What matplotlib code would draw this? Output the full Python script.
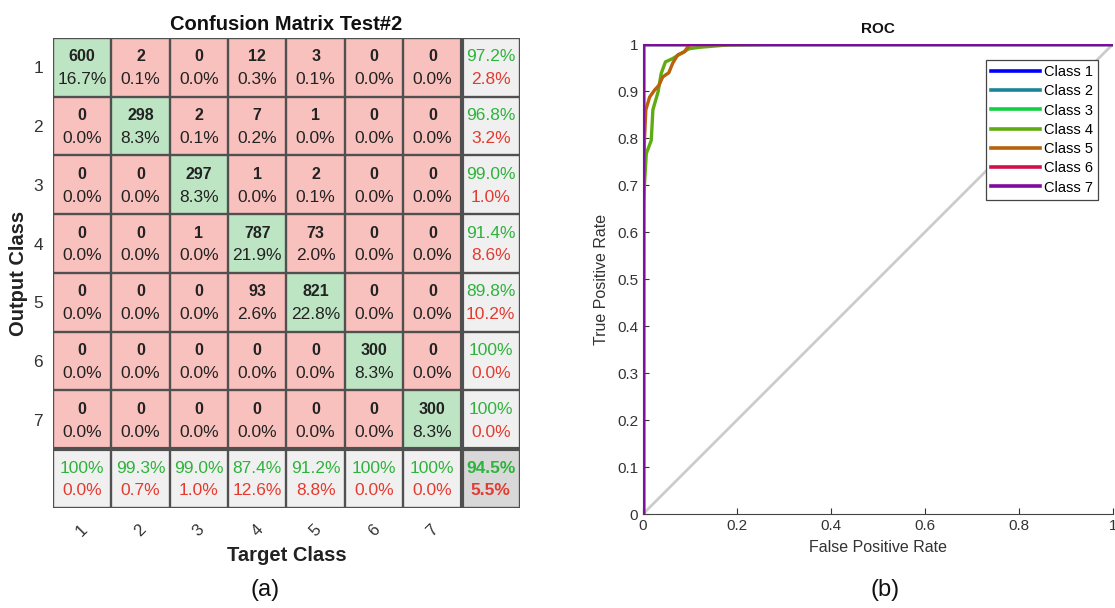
import numpy as np
import matplotlib
matplotlib.use("Agg")
import matplotlib.pyplot as plt
from matplotlib.patches import Rectangle

plt.rcParams['font.family'] = ['Liberation Sans', 'DejaVu Sans']

# ---------------- data ----------------
classes = ['1', '2', '3', '4', '5', '6', '7']
counts = [
    [600, 2, 0, 12, 3, 0, 0],
    [0, 298, 2, 7, 1, 0, 0],
    [0, 0, 297, 1, 2, 0, 0],
    [0, 0, 1, 787, 73, 0, 0],
    [0, 0, 0, 93, 821, 0, 0],
    [0, 0, 0, 0, 0, 300, 0],
    [0, 0, 0, 0, 0, 0, 300],
]
cell_pct = [
    ['16.7%', '0.1%', '0.0%', '0.3%', '0.1%', '0.0%', '0.0%'],
    ['0.0%', '8.3%', '0.1%', '0.2%', '0.0%', '0.0%', '0.0%'],
    ['0.0%', '0.0%', '8.3%', '0.0%', '0.1%', '0.0%', '0.0%'],
    ['0.0%', '0.0%', '0.0%', '21.9%', '2.0%', '0.0%', '0.0%'],
    ['0.0%', '0.0%', '0.0%', '2.6%', '22.8%', '0.0%', '0.0%'],
    ['0.0%', '0.0%', '0.0%', '0.0%', '0.0%', '8.3%', '0.0%'],
    ['0.0%', '0.0%', '0.0%', '0.0%', '0.0%', '0.0%', '8.3%'],
]
row_good = ['97.2%', '96.8%', '99.0%', '91.4%', '89.8%', '100%', '100%']
row_bad = ['2.8%', '3.2%', '1.0%', '8.6%', '10.2%', '0.0%', '0.0%']
col_good = ['100%', '99.3%', '99.0%', '87.4%', '91.2%', '100%', '100%']
col_bad = ['0.0%', '0.7%', '1.0%', '12.6%', '8.8%', '0.0%', '0.0%']
total_good = '94.5%'
total_bad = '5.5%'

roc_labels = ['Class 1', 'Class 2', 'Class 3', 'Class 4', 'Class 5', 'Class 6', 'Class 7']
roc_colors = ['#0000ff', '#1a8597', '#12d040', '#5fac10', '#b8620c', '#d0104a', '#820aa0']
perfect_fpr = [0, 0, 1]
perfect_tpr = [0, 1, 1]
c4_fpr = [0, 0.001, 0.007, 0.0175, 0.021, 0.032, 0.0386, 0.0477, 0.063, 0.081, 0.098, 0.12, 0.18, 0.31, 1]
c4_tpr = [0, 0.667, 0.767, 0.795, 0.86, 0.898, 0.937, 0.962, 0.969, 0.98, 0.99, 0.993, 0.998, 1.0, 1.0]
c5_fpr = [0, 0.0, 0.003, 0.006, 0.014, 0.0246, 0.0337, 0.042, 0.055, 0.063, 0.074, 0.088, 0.098, 0.112, 1]
c5_tpr = [0, 0.6, 0.795, 0.86, 0.887, 0.902, 0.912, 0.93, 0.939, 0.959, 0.977, 0.983, 0.998, 1.0, 1.0]
roc_fpr = [perfect_fpr, perfect_fpr, perfect_fpr, c4_fpr, c5_fpr, perfect_fpr, perfect_fpr]
roc_tpr = [perfect_tpr, perfect_tpr, perfect_tpr, c4_tpr, c5_tpr, perfect_tpr, perfect_tpr]

# ---------------- figure ----------------
fig = plt.figure(figsize=(11.15, 6.08), dpi=100)

GREEN_BG = '#bde5c3'
RED_BG = '#f8c1bd'
GRAY_BG = '#f0f0f0'
DARK_BG = '#d8d8d8'
GREEN_TX = '#2eb33c'
RED_TX = '#e53a30'
EDGE = '#505050'
TXT = '#222222'

n = len(classes)
ax = fig.add_axes([0.0475, 0.1645, 0.4188, 0.773])
ax.set_xlim(0.5, n + 1.5)
ax.set_ylim(n + 1.5, 0.5)

fs_num = 11.5
fs_pct = 12.5
dy1, dy2 = -0.18, 0.21
for i in range(n):
    for j in range(n):
        bg = GREEN_BG if i == j else RED_BG
        ax.add_patch(Rectangle((j + 0.5, i + 0.5), 1, 1, facecolor=bg, edgecolor='none'))
        ax.text(j + 1, i + 1 + dy1, str(counts[i][j]), ha='center', va='center',
                fontsize=fs_num, fontweight='bold', color=TXT)
        ax.text(j + 1, i + 1 + dy2, cell_pct[i][j], ha='center', va='center',
                fontsize=fs_pct, color=TXT)
    # row summary
    ax.add_patch(Rectangle((n + 0.5, i + 0.5), 1, 1, facecolor=GRAY_BG, edgecolor='none'))
    ax.text(n + 1, i + 1 + dy1, row_good[i], ha='center', va='center', fontsize=fs_pct, color=GREEN_TX)
    ax.text(n + 1, i + 1 + dy2, row_bad[i], ha='center', va='center', fontsize=fs_pct, color=RED_TX)
    # column summary
    ax.add_patch(Rectangle((i + 0.5, n + 0.5), 1, 1, facecolor=GRAY_BG, edgecolor='none'))
    ax.text(i + 1, n + 1 + dy1, col_good[i], ha='center', va='center', fontsize=fs_pct, color=GREEN_TX)
    ax.text(i + 1, n + 1 + dy2, col_bad[i], ha='center', va='center', fontsize=fs_pct, color=RED_TX)
ax.add_patch(Rectangle((n + 0.5, n + 0.5), 1, 1, facecolor=DARK_BG, edgecolor='none'))
ax.text(n + 1, n + 1 + dy1, total_good, ha='center', va='center', fontsize=fs_pct,
        fontweight='bold', color=GREEN_TX)
ax.text(n + 1, n + 1 + dy2, total_bad, ha='center', va='center', fontsize=fs_pct,
        fontweight='bold', color=RED_TX)

for k in range(n + 2):
    lw = 3.0 if k == n else 1.7
    ax.axvline(k + 0.5, color=EDGE, lw=lw, zorder=5)
    ax.axhline(k + 0.5, color=EDGE, lw=lw, zorder=5)

for s in ax.spines.values():
    s.set_visible(False)
ax.set_xticks(range(1, n + 1))
ax.set_xticklabels(classes, rotation=45, fontsize=12, color='#333333')
ax.set_yticks(range(1, n + 1))
ax.set_yticklabels(classes, fontsize=12.5, color='#333333')
ax.tick_params(length=0, pad=7)
ax.tick_params(axis='x', pad=10)
ax.set_title('Confusion Matrix Test#2', fontsize=14.5, fontweight='bold', pad=6, color='#111111')
ax.set_xlabel('Target Class', fontsize=14.5, fontweight='bold', color='#222222', labelpad=5)
ax.set_ylabel('Output Class', fontsize=14.5, fontweight='bold', color='#222222', labelpad=4)

# ---------------- ROC ----------------
ax2 = fig.add_axes([0.5767, 0.1546, 0.4215, 0.773])
ax2.plot([0, 1], [0, 1], color='#cccccc', lw=2)
for fpr, tpr, col, lab in zip(roc_fpr, roc_tpr, roc_colors, roc_labels):
    ax2.plot(fpr, tpr, color=col, lw=2.4, label=lab, solid_joinstyle='round')
ax2.set_xlim(0, 1)
ax2.set_ylim(0, 1)
ax2.set_xticks(np.arange(0, 1.01, 0.2))
ax2.set_xticklabels(['0', '0.2', '0.4', '0.6', '0.8', '1'])
ax2.set_yticks(np.arange(0, 1.01, 0.1))
ax2.set_yticklabels(['0', '0.1', '0.2', '0.3', '0.4', '0.5', '0.6', '0.7', '0.8', '0.9', '1'])
ax2.tick_params(direction='in', length=4, labelsize=11, colors='#333333', width=0.8)
ax2.spines['top'].set_visible(False)
ax2.spines['right'].set_visible(False)
for s in ('left', 'bottom'):
    ax2.spines[s].set_color('#444444')
ax2.set_title('ROC', fontsize=11, fontweight='bold', pad=8, color='#111111')
ax2.set_xlabel('False Positive Rate', fontsize=11.5, color='#333333', labelpad=5)
ax2.set_ylabel('True Positive Rate', fontsize=11.5, color='#333333', labelpad=6)
leg = ax2.legend(loc='upper right', bbox_to_anchor=(0.968, 0.966), borderaxespad=0,
                 fontsize=10.5, fancybox=False, framealpha=1, edgecolor='#444444',
                 handlelength=3.4, labelspacing=0.36, handletextpad=0.25, borderpad=0.35)
leg.get_frame().set_linewidth(0.9)
for line in leg.get_lines():
    line.set_linewidth(2.6)

fig.text(265 / 1115, 1 - 590 / 608, '(a)', ha='center', va='center', fontsize=17, color='#111111')
fig.text(885 / 1115, 1 - 590 / 608, '(b)', ha='center', va='center', fontsize=17, color='#111111')

fig.savefig('out.png', dpi=100)
